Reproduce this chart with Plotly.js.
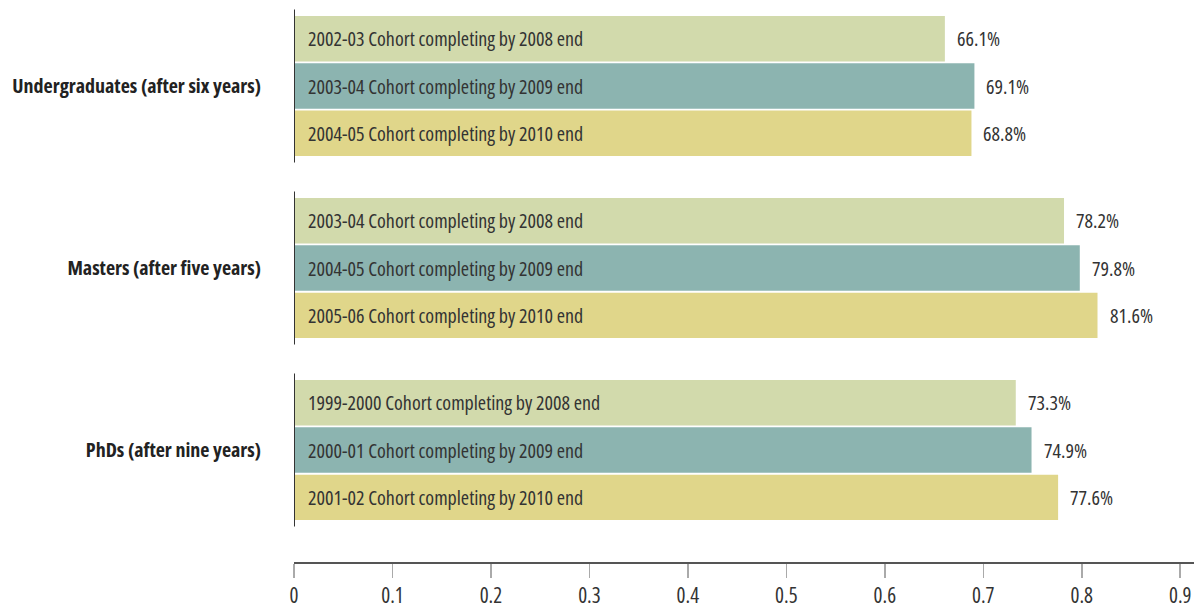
<!DOCTYPE html>
<html>
<head>
<meta charset="utf-8">
<script src="https://cdn.plot.ly/plotly-3.0.1.min.js"></script>
<style>
html,body{margin:0;padding:0;background:#fff;}
#chart{width:1194px;height:609px;}
#chart text{font-stretch:75% !important;}
</style>
</head>
<body>
<div id="chart"></div>
<script>
const categories = ["Undergraduates (after six years)", "Masters (after five years)", "PhDs (after nine years)"];
const series1Labels = ["2002-03 Cohort completing by 2008 end", "2003-04 Cohort completing by 2008 end", "1999-2000 Cohort completing by 2008 end"];
const series2Labels = ["2003-04 Cohort completing by 2009 end", "2004-05 Cohort completing by 2009 end", "2000-01 Cohort completing by 2009 end"];
const series3Labels = ["2004-05 Cohort completing by 2010 end", "2005-06 Cohort completing by 2010 end", "2001-02 Cohort completing by 2010 end"];
const series1Values = [0.661, 0.782, 0.733];
const series2Values = [0.691, 0.798, 0.749];
const series3Values = [0.688, 0.816, 0.776];
const tickValues = [0, 0.1, 0.2, 0.3, 0.4, 0.5, 0.6, 0.7, 0.8, 0.9];
const tickLabels = ["0", "0.1", "0.2", "0.3", "0.4", "0.5", "0.6", "0.7", "0.8", "0.9"];

const FONT = "'Open Sans', 'Roboto', sans-serif";
const colors = ["#d2daac", "#8cb4b0", "#e0d68a"];
const seriesValues = [series1Values, series2Values, series3Values];
const seriesLabels = [series1Labels, series2Labels, series3Labels];

const bargap = 0.22, bargroupgap = 0.04;
const slot = (1 - bargap) / 3;

const traces = seriesValues.map((vals, j) => ({
  type: "bar",
  orientation: "h",
  y: categories,
  x: vals,
  marker: { color: colors[j], line: { width: 0 } },
  hoverinfo: "skip",
  showlegend: false
}));

const annotations = [];
const shapes = [];
categories.forEach((cat, i) => {
  seriesValues.forEach((vals, j) => {
    const yPos = i + (j - 1) * slot;
    annotations.push({
      xref: "x", yref: "y", x: 0, y: yPos, xanchor: "left", yanchor: "middle", align: "left",
      xshift: 12, showarrow: false, text: seriesLabels[j][i],
      font: { family: FONT, size: 20, color: "#333" }
    });
    annotations.push({
      xref: "x", yref: "y", x: vals[i], y: yPos, xanchor: "left", yanchor: "middle", align: "left",
      xshift: 10, showarrow: false, text: (vals[i] * 100).toFixed(1) + "%",
      font: { family: FONT, size: 20, color: "#333", weight: 500 }
    });
  });
  shapes.push({
    type: "line", xref: "x", yref: "y", x0: 0, x1: 0, y0: i - 0.42, y1: i + 0.42,
    line: { color: "#333", width: 2 }, layer: "above"
  });
});

const layout = {
  width: 1194, height: 609,
  margin: { l: 294, r: 0, t: 5, b: 47 },
  paper_bgcolor: "#fff", plot_bgcolor: "#fff",
  barmode: "group", bargap: bargap, bargroupgap: bargroupgap,
  font: { family: FONT, color: "#333" },
  xaxis: {
    range: [0, 0.914], tickvals: tickValues, ticktext: tickLabels,
    showgrid: false, zeroline: false, showline: true, linecolor: "#555", linewidth: 1.5,
    ticks: "outside", ticklen: 14, tickcolor: "#aaa", tickwidth: 1.5,
    ticklabeloverflow: "allow",
    tickfont: { family: FONT, size: 21, color: "#333" }
  },
  yaxis: {
    type: "category", categoryarray: categories,
    range: [2.615, -0.445], showgrid: false, zeroline: false, showline: false,
    ticks: "", ticklabelstandoff: 32,
    tickfont: { family: FONT, size: 20, color: "#222", weight: "bold" }
  },
  annotations: annotations,
  shapes: shapes
};

Plotly.newPlot("chart", traces, layout, { staticPlot: true, displayModeBar: false });
</script>
</body>
</html>
